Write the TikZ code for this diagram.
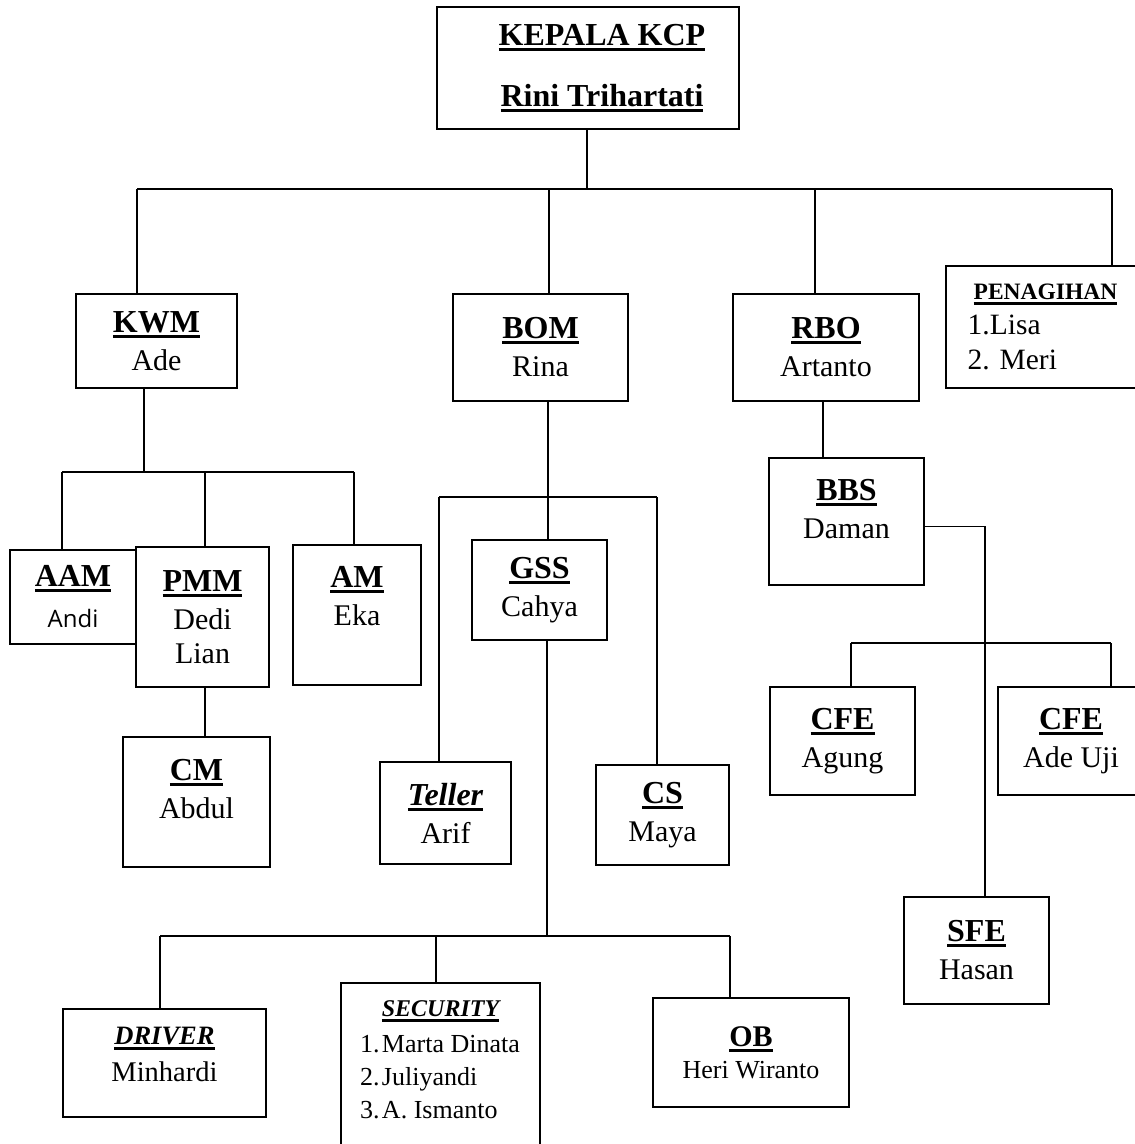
\documentclass[tikz,border=0pt]{standalone}
\usepackage{fontspec}
\setmainfont{Liberation Serif}
\newfontfamily\andifont{Open Sans}
\usepackage{tikz}

% garis bawah tebal untuk judul jabatan
\newcommand{\garis}[1]{\setbox0\hbox{#1}\rlap{\vrule width\wd0 height -2.5pt depth 5.5pt}\box0}
\newcommand{\jab}[2][32]{{\fontsize{#1}{38}\selectfont\bfseries\garis{#2}}}
\newcommand{\jabm}[2][32]{{\fontsize{#1}{38}\selectfont\bfseries\itshape\garis{#2}}}

\begin{document}
\begin{tikzpicture}[x=1pt, y=-1pt]
			\tikzstyle{kotak} = [draw, line width=1.8pt, align=center, inner sep=0pt, font=\fontsize{30}{38}\selectfont]
			\tikzset{hubung/.style = {line width=1.8pt}}

			\useasboundingbox (0,0) rectangle (1135,1144);
			\fill[white] (0,0) rectangle (1135,1144);
			\clip (0,0) rectangle (1135,1144);

			% pimpinan
			\node[kotak, minimum width=302pt, minimum height=122pt, font=\fontsize{32}{36}\selectfont\bfseries](kepala) at (588,68) {\hspace*{28pt}\garis{KEPALA KCP}\\[25pt]\hspace*{28pt}\garis{Rini Trihartati}};

			% baris pertama
			\node[kotak, minimum width=161pt, minimum height=94pt](kwm) at (156.5,341) {\jab{KWM}\\Ade};
			\node[kotak, minimum width=175pt, minimum height=107pt](bom) at (540.5,347.5) {\jab{BOM}\\Rina};
			\node[kotak, minimum width=186pt, minimum height=107pt](rbo) at (826,347.5) {\jab{RBO}\\Artanto};
			\node[kotak, minimum width=193pt, minimum height=122pt, align=left, font=\fontsize{29.5}{35}\selectfont](tagih) at (1042.5,327) {\hspace*{6pt}\jab[23.5]{PENAGIHAN}\\1.Lisa\\2. Meri};

			\coordinate (b1) at (137,189);
			\coordinate (b2) at (549,189);
			\coordinate (b3) at (815,189);
			\coordinate (b4) at (1112,189);
			\draw[hubung]([xshift=-1pt]kepala.south) to ([xshift=-1pt]kepala.south |- b1);
			\draw[hubung](b1) to (b4);
			\draw[hubung](b1) to (b1 |- kwm.north);
			\draw[hubung](b2) to (b2 |- bom.north);
			\draw[hubung](b3) to (b3 |- rbo.north);
			\draw[hubung](b4) to (b4 |- tagih.north);

			% bawahan KWM
			\node[kotak, minimum width=126pt, minimum height=94pt](aam) at (73,597) {\jab{AAM}\\[3pt]{\andifont\fontsize{24}{38}\selectfont Andi}};
			\node[kotak, minimum width=133pt, minimum height=140pt](pmm) at (202.5,617) {\jab{PMM}\\Dedi\\[-4pt]Lian};
			\node[kotak, minimum width=128pt, minimum height=140pt](am) at (357,615) {\jab{AM}\\Eka\\\mbox{}};
			\node[kotak, minimum width=147pt, minimum height=130pt](cm) at (196.5,802) {\jab{CM}\\Abdul\\[-12pt]\mbox{}};

			\coordinate (k0) at (144,472);
			\coordinate (k1) at (62,472);
			\coordinate (k2) at (205,472);
			\coordinate (k3) at (354,472);
			\draw[hubung](kwm.south -| k0) to (k0);
			\draw[hubung](k1) to (k3);
			\draw[hubung](k1) to (k1 |- aam.north);
			\draw[hubung](k2) to (k2 |- pmm.north);
			\draw[hubung](k3) to (k3 |- am.north);
			\draw[hubung](pmm.south -| k2) to (cm.north -| k2);

			% bawahan BOM
			\node[kotak, minimum width=135pt, minimum height=100pt](gss) at (539.5,590) {\jab{GSS}\\Cahya};
			\node[kotak, minimum width=131pt, minimum height=102pt](teller) at (445.5,813) {\jabm{Teller}\\Arif};
			\node[kotak, minimum width=133pt, minimum height=100pt](cs) at (662.5,815) {\jab{CS}\\Maya};

			\coordinate (m0) at (548,497);
			\coordinate (m1) at (439,497);
			\coordinate (m3) at (657,497);
			\draw[hubung](bom.south -| m0) to (m0);
			\draw[hubung](m1) to (m3);
			\draw[hubung](m0) to (m0 |- gss.north);
			\draw[hubung](m1) to (m1 |- teller.north);
			\draw[hubung](m3) to (m3 |- cs.north);

			% bawahan GSS
			\node[kotak, minimum width=203pt, minimum height=108pt, font=\fontsize{28.5}{37}\selectfont](driver) at (164.5,1063) {\jabm[26.5]{DRIVER}\\Minhardi\\[-19pt]\mbox{}};
			\node[kotak, minimum width=199pt, minimum height=200pt, font=\fontsize{26}{33}\selectfont](satpam) at (440.5,1083) {\jabm[24]{SECURITY}\\[3pt]\makebox[161pt][l]{\makebox[22pt][l]{1.}Marta Dinata}\\\makebox[161pt][l]{\makebox[22pt][l]{2.}Juliyandi}\\\makebox[161pt][l]{\makebox[22pt][l]{3.}A. Ismanto}\\[14pt]\mbox{}};
			\node[kotak, minimum width=196pt, minimum height=109pt, font=\fontsize{26}{32}\selectfont](ob) at (751,1052.5) {\jab[30]{OB}\\Heri Wiranto};

			\coordinate (g0) at (547,936);
			\coordinate (g1) at (160,936);
			\coordinate (g2) at (436,936);
			\coordinate (g3) at (730,936);
			\draw[hubung](gss.south -| g0) to (g0);
			\draw[hubung](g1) to (g3);
			\draw[hubung](g1) to (g1 |- driver.north);
			\draw[hubung](g2) to (g2 |- satpam.north);
			\draw[hubung](g3) to (g3 |- ob.north);

			% bawahan RBO
			\node[kotak, minimum width=155pt, minimum height=127pt](bbs) at (846.5,521.5) {\jab{BBS}\\Daman\\[-12pt]\mbox{}};
			\node[kotak, minimum width=145pt, minimum height=108pt](cfea) at (842.5,741) {\jab{CFE}\\Agung};
			\node[kotak, minimum width=146pt, minimum height=108pt](cfeb) at (1071,741) {\jab{CFE}\\Ade Uji};
			\node[kotak, minimum width=145pt, minimum height=107pt](sfe) at (976.5,950.5) {\jab{SFE}\\Hasan};

			\draw[hubung]([xshift=-3pt]rbo.south) to ([xshift=-3pt]rbo.south |- bbs.north);
			\coordinate (c0) at (985,643);
			\coordinate (c1) at (851,643);
			\coordinate (c2) at (1111,643);
			\draw[hubung]([yshift=-5pt]bbs.east) -| (c0);
			\draw[hubung](c0) to (c0 |- sfe.north);
			\draw[hubung](c1) to (c2);
			\draw[hubung](c1) to (c1 |- cfea.north);
			\draw[hubung](c2) to (c2 |- cfeb.north);

			\end{tikzpicture}
\end{document}
